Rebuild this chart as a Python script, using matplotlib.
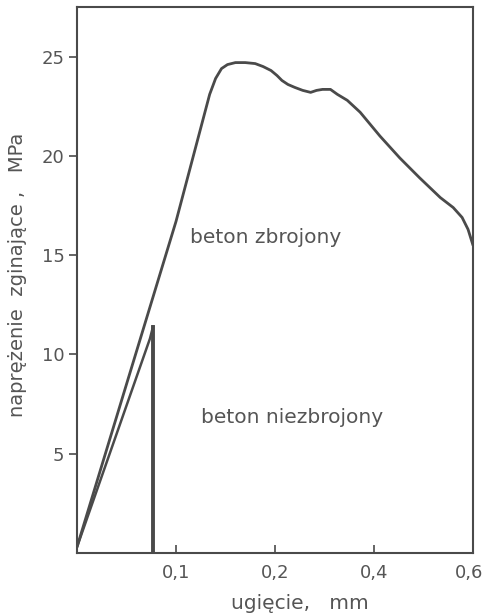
import numpy as np
import matplotlib
matplotlib.use("Agg")
import matplotlib.pyplot as plt
import matplotlib.transforms as mtransforms

# data (deflection in mm, bending stress in MPa)
reinforced_x = [0.0, 0.1, 0.134, 0.140, 0.146, 0.152, 0.160, 0.170, 0.180, 0.188,
                0.196, 0.204, 0.214, 0.226, 0.24, 0.256, 0.272, 0.284, 0.296,
                0.312, 0.326, 0.346, 0.372, 0.412, 0.452, 0.492, 0.534,
                0.560, 0.578, 0.590, 0.6]
reinforced_y = [0.3, 16.7, 23.1, 23.9, 24.4, 24.6, 24.7, 24.7, 24.65, 24.5,
                24.3, 24.05, 23.8, 23.6, 23.45, 23.3, 23.2, 23.3, 23.35,
                23.35, 23.1, 22.8, 22.2, 21.0, 19.9, 18.9, 17.9,
                17.4, 16.9, 16.3, 15.5]
plain_x = [0.0, 0.0737, 0.0768, 0.0768]
plain_y = [0.3, 10.8, 11.4, 0.0]

x_ticks = [0.1, 0.2, 0.4, 0.6]
x_ticklabels = ["0,1", "0,2", "0,4", "0,6"]
y_ticks = [5, 10, 15, 20, 25]
y_ticklabels = ["5", "10", "15", "20", "25"]

# piecewise axis as in the original (equal spacing for 0, 0.1, 0.2, 0.4, 0.6)
scale_pts = [0.0, 0.1, 0.2, 0.4, 0.6]
scale_pos = [0.0, 1.0, 2.0, 3.0, 4.0]

def fwd(x):
    return np.interp(x, scale_pts, scale_pos)

def inv(p):
    return np.interp(p, scale_pos, scale_pts)

ink = "#4a4a4a"
txt = "#555555"

fig = plt.figure(figsize=(4.85, 6.16), dpi=100)
ax = fig.add_axes([77/485, 1-553/616, (473-77)/485, (553-7)/616])
ax.set_xscale("function", functions=(fwd, inv))
ax.set_xlim(0, 0.6)
ax.set_ylim(0, 27.5)

ax.plot(reinforced_x, reinforced_y, color=ink, lw=2.0, solid_capstyle="round",
        solid_joinstyle="round")
ax.plot(plain_x[:3], plain_y[:3], color=ink, lw=1.8)
ax.plot(plain_x[2:], plain_y[2:], color=ink, lw=2.8)

ax.set_xticks(x_ticks)
ax.set_xticklabels(x_ticklabels)
ax.set_yticks(y_ticks)
ax.set_yticklabels(y_ticklabels)
ax.xaxis.set_minor_locator(matplotlib.ticker.NullLocator())
ax.tick_params(axis="x", direction="in", length=6, width=1.2, color=ink,
               labelsize=13, labelcolor=txt, pad=8)
ax.tick_params(axis="y", direction="out", length=6, width=1.2, color=ink,
               labelsize=13, labelcolor=txt, pad=3)
for s in ax.spines.values():
    s.set_color(ink)
    s.set_linewidth(1.5)

# shift last x tick label slightly left so it stays inside the figure
last = ax.get_xticklabels()[-1]
last.set_transform(last.get_transform() + mtransforms.ScaledTranslation(-4/100, 0, fig.dpi_scale_trans))

ax.set_xlabel("ugięcie,   mm", fontsize=14.5, color=txt)
ax.xaxis.set_label_coords(0.563, -0.075)
ax.set_ylabel("naprężenie  zginające ,   MPa", fontsize=14, color=txt)
ax.yaxis.set_label_coords(-0.125, 0.51)

ax.text(0.191, 15.9, "beton zbrojony", fontsize=14.5, color=txt, ha="center", va="center")
ax.text(0.234, 6.8, "beton niezbrojony", fontsize=14.5, color=txt, ha="center", va="center")

fig.savefig("out.png", dpi=100)
